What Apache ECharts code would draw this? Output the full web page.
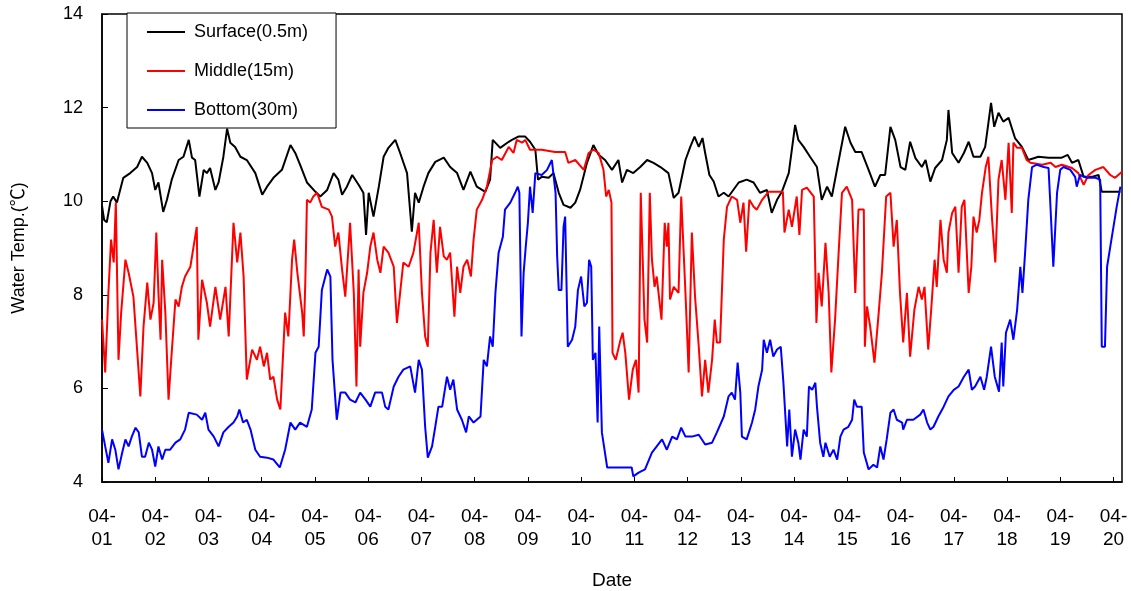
<!DOCTYPE html>
<html>
<head>
<meta charset="utf-8">
<script src="https://cdn.jsdelivr.net/npm/echarts@6/dist/echarts.min.js"></script>
<style>
html,body{margin:0;padding:0;background:#fff;}
#chart{width:1131px;height:591px;}
</style>
</head>
<body>
<div id="chart"></div>
<script>
// Days elapsed since 04-01 00:00 and water temperature (°C)
const surfaceT = [0.00,0.04,0.09,0.16,0.21,0.28,0.40,0.53,0.66,0.75,0.85,0.94,1.00,1.06,1.15,1.22,1.31,1.44,1.53,1.63,1.69,1.75,1.83,1.91,1.97,2.03,2.13,2.19,2.28,2.35,2.41,2.50,2.60,2.72,2.88,3.01,3.10,3.22,3.38,3.54,3.63,3.72,3.85,4.01,4.10,4.23,4.35,4.44,4.51,4.60,4.70,4.82,4.91,4.96,5.01,5.10,5.20,5.29,5.38,5.51,5.60,5.73,5.82,5.88,5.95,6.04,6.13,6.26,6.42,6.54,6.67,6.79,6.92,7.04,7.20,7.29,7.34,7.48,7.64,7.70,7.82,7.95,8.04,8.14,8.19,8.26,8.39,8.48,8.58,8.67,8.80,8.89,8.98,9.11,9.23,9.33,9.45,9.58,9.70,9.77,9.86,9.98,10.11,10.24,10.36,10.49,10.64,10.74,10.83,10.96,11.05,11.13,11.21,11.28,11.33,11.41,11.49,11.58,11.68,11.77,11.96,12.11,12.24,12.36,12.49,12.58,12.68,12.77,12.90,13.02,13.08,13.18,13.30,13.43,13.52,13.62,13.71,13.84,13.96,14.06,14.15,14.27,14.40,14.52,14.62,14.71,14.81,14.90,15.00,15.09,15.18,15.28,15.40,15.47,15.56,15.65,15.78,15.87,15.90,15.97,16.09,16.19,16.28,16.37,16.50,16.59,16.65,16.70,16.76,16.84,16.93,17.03,17.15,17.28,17.40,17.59,17.78,18.03,18.14,18.22,18.34,18.44,18.59,18.72,18.78,18.97,19.13];
const surfaceV = [9.9,9.6,9.55,10.0,10.1,9.97,10.5,10.6,10.73,10.95,10.82,10.6,10.24,10.4,9.77,10.03,10.46,10.88,10.95,11.31,10.93,10.88,10.1,10.67,10.6,10.71,10.24,10.4,10.95,11.55,11.25,11.16,10.95,10.88,10.6,10.14,10.31,10.5,10.67,11.2,11.03,10.78,10.4,10.2,10.1,10.24,10.6,10.46,10.14,10.31,10.56,10.35,10.18,9.28,10.18,9.67,10.31,10.95,11.14,11.31,11.03,10.6,9.35,10.18,9.97,10.31,10.6,10.84,10.93,10.73,10.6,10.24,10.63,10.31,10.2,10.46,11.31,11.14,11.27,11.31,11.38,11.38,11.27,11.1,10.46,10.52,10.5,10.6,10.18,9.92,9.86,9.97,10.24,10.82,11.2,10.99,10.88,10.67,10.88,10.4,10.67,10.6,10.73,10.88,10.82,10.73,10.6,10.07,10.18,10.88,11.16,11.38,11.16,11.35,11.03,10.56,10.42,10.1,10.18,10.1,10.4,10.46,10.4,10.18,10.24,9.75,10.03,10.2,10.6,11.63,11.31,11.16,10.95,10.73,10.03,10.31,10.1,10.88,11.59,11.25,11.05,11.05,10.67,10.31,10.56,10.56,11.59,11.31,10.73,10.67,11.27,10.92,10.73,10.88,10.42,10.71,10.88,11.31,11.95,11.03,10.82,11.03,11.27,10.95,10.95,11.16,11.67,12.1,11.59,11.89,11.7,11.78,11.35,11.16,10.88,10.95,10.93,10.93,10.99,10.82,10.88,10.52,10.52,10.56,10.2,10.2,10.2];

const middleT = [0.00,0.06,0.12,0.17,0.22,0.26,0.31,0.36,0.44,0.50,0.59,0.72,0.78,0.85,0.91,0.97,1.02,1.06,1.10,1.13,1.19,1.25,1.30,1.38,1.44,1.50,1.56,1.66,1.72,1.78,1.81,1.88,1.97,2.03,2.13,2.22,2.32,2.38,2.47,2.54,2.60,2.66,2.72,2.82,2.91,2.97,3.04,3.10,3.16,3.22,3.29,3.35,3.44,3.50,3.57,3.61,3.67,3.76,3.79,3.82,3.85,3.91,3.97,4.04,4.13,4.26,4.32,4.38,4.44,4.51,4.57,4.66,4.73,4.78,4.82,4.85,4.91,4.98,5.04,5.10,5.17,5.23,5.29,5.38,5.48,5.54,5.60,5.66,5.76,5.85,5.95,6.01,6.07,6.12,6.17,6.23,6.29,6.35,6.42,6.48,6.54,6.62,6.67,6.73,6.79,6.86,6.93,6.98,7.04,7.14,7.23,7.33,7.42,7.51,7.64,7.73,7.79,7.89,7.95,8.04,8.26,8.51,8.70,8.76,8.89,9.05,9.14,9.23,9.33,9.42,9.47,9.52,9.57,9.59,9.65,9.74,9.78,9.83,9.90,9.97,10.03,10.08,10.12,10.19,10.24,10.29,10.33,10.38,10.42,10.51,10.57,10.61,10.64,10.67,10.74,10.83,10.88,10.96,11.02,11.08,11.14,11.21,11.27,11.33,11.39,11.46,11.51,11.55,11.61,11.68,11.74,11.83,11.93,11.99,12.05,12.10,12.16,12.24,12.30,12.40,12.52,12.79,12.82,12.90,12.96,13.05,13.10,13.15,13.24,13.37,13.42,13.46,13.52,13.59,13.65,13.70,13.77,13.84,13.90,13.99,14.09,14.15,14.21,14.31,14.33,14.37,14.43,14.51,14.59,14.65,14.73,14.81,14.87,14.93,14.99,15.05,15.12,15.18,15.26,15.34,15.40,15.45,15.52,15.58,15.64,15.68,15.75,15.81,15.87,15.90,15.97,16.03,16.09,16.15,16.20,16.28,16.33,16.37,16.43,16.48,16.53,16.60,16.65,16.72,16.78,16.84,16.90,16.97,17.03,17.09,17.12,17.19,17.28,17.37,17.44,17.66,17.82,17.91,18.03,18.22,18.34,18.44,18.53,18.66,18.81,18.94,19.03,19.16];
const middleV = [7.47,6.34,8.04,9.18,8.69,9.97,6.61,7.62,8.75,8.47,7.96,5.83,7.32,8.26,7.47,7.83,9.33,8.04,7.04,8.75,7.62,5.76,6.61,7.9,7.75,8.17,8.39,8.6,9.03,9.45,7.04,8.32,7.83,7.32,8.17,7.47,8.17,7.11,9.54,8.69,9.33,8.39,6.19,6.83,6.61,6.89,6.47,6.76,6.19,6.25,5.76,5.55,7.62,7.11,8.75,9.18,8.47,7.62,7.11,8.32,10.03,9.97,10.1,10.18,9.88,9.82,9.67,9.03,9.33,8.54,7.96,9.54,8.04,6.04,8.54,6.89,8.04,8.47,9.03,9.33,8.75,8.47,9.03,8.9,8.6,7.4,8.04,8.69,8.6,8.9,9.54,8.04,7.11,6.89,8.9,9.6,8.47,9.45,8.82,8.75,8.9,7.53,8.6,8.04,8.6,8.75,8.39,9.18,9.82,10.03,10.31,10.88,10.95,10.88,11.16,11.03,11.31,11.25,11.31,11.1,11.1,11.05,11.05,10.82,10.88,10.67,11.03,11.1,11.03,10.67,10.1,10.24,9.97,6.76,6.61,7.04,7.19,6.76,5.76,6.4,6.61,5.91,10.18,7.47,6.98,10.18,8.75,8.17,8.39,7.47,9.54,9.03,9.54,7.9,8.17,8.04,10.1,8.04,6.34,9.33,7.96,6.89,5.83,6.61,5.91,6.61,7.47,6.98,6.98,9.18,9.88,10.1,10.03,9.54,9.97,8.92,10.03,9.88,9.82,10.03,10.2,10.2,9.33,9.82,9.45,10.1,9.28,10.24,10.29,10.1,7.4,8.47,7.75,9.11,8.04,6.34,7.47,8.96,10.18,10.31,10.03,8.04,9.82,9.82,6.89,7.75,7.32,6.55,7.62,8.47,10.1,10.18,9.03,9.6,8.04,6.98,8.04,6.68,7.68,8.17,7.9,8.17,6.83,7.75,8.75,8.17,9.6,8.75,8.47,9.33,9.75,9.88,8.47,9.88,10.03,8.04,8.6,9.67,9.33,9.6,10.18,10.73,10.95,9.6,8.69,10.46,10.88,10.03,11.25,9.75,11.25,11.14,11.14,10.88,10.82,10.78,10.82,10.73,10.78,10.71,10.6,10.35,10.56,10.67,10.73,10.56,10.5,10.63];

const bottomT = [0.00,0.06,0.12,0.19,0.25,0.31,0.38,0.44,0.50,0.56,0.63,0.69,0.75,0.81,0.88,0.94,1.00,1.06,1.13,1.19,1.28,1.38,1.47,1.56,1.63,1.78,1.88,1.94,2.00,2.10,2.19,2.28,2.38,2.47,2.54,2.58,2.65,2.72,2.79,2.88,2.97,3.10,3.22,3.34,3.44,3.54,3.63,3.72,3.85,3.94,4.01,4.07,4.13,4.23,4.29,4.33,4.41,4.48,4.57,4.66,4.76,4.85,4.95,5.04,5.13,5.26,5.32,5.38,5.48,5.57,5.66,5.79,5.88,5.95,6.01,6.07,6.12,6.20,6.26,6.32,6.39,6.48,6.54,6.60,6.67,6.76,6.84,6.89,6.98,7.11,7.17,7.23,7.29,7.34,7.39,7.45,7.53,7.57,7.67,7.76,7.81,7.84,7.88,7.92,7.96,8.00,8.04,8.09,8.14,8.26,8.36,8.45,8.52,8.55,8.58,8.63,8.67,8.70,8.75,8.83,8.89,8.94,9.00,9.06,9.11,9.15,9.19,9.22,9.27,9.31,9.34,9.39,9.49,9.95,9.98,10.08,10.20,10.33,10.42,10.52,10.61,10.71,10.80,10.88,10.96,11.08,11.21,11.33,11.46,11.55,11.68,11.77,11.83,11.89,11.94,11.99,12.02,12.11,12.21,12.27,12.33,12.40,12.43,12.49,12.55,12.61,12.68,12.75,12.80,12.87,12.91,12.96,13.02,13.08,13.12,13.18,13.24,13.28,13.34,13.40,13.43,13.49,13.55,13.59,13.67,13.74,13.81,13.87,13.93,14.02,14.09,14.13,14.18,14.27,14.31,14.40,14.49,14.56,14.62,14.68,14.74,14.81,14.87,14.93,15.03,15.05,15.12,15.24,15.37,15.43,15.50,15.56,15.62,15.71,15.81,15.90,16.00,16.09,16.19,16.28,16.34,16.40,16.50,16.57,16.62,16.70,16.77,16.85,16.90,16.93,16.98,17.06,17.12,17.19,17.25,17.29,17.34,17.40,17.47,17.56,17.69,17.78,17.81,17.87,17.94,18.00,18.06,18.19,18.28,18.31,18.37,18.50,18.66,18.75,18.78,18.84,18.88,18.94,19.00,19.06,19.13];
const bottomV = [5.12,4.76,4.41,4.91,4.69,4.27,4.63,4.91,4.76,4.97,5.16,5.06,4.54,4.54,4.84,4.69,4.33,4.76,4.48,4.69,4.69,4.84,4.91,5.12,5.48,5.44,5.33,5.48,5.12,4.97,4.76,5.06,5.18,5.27,5.4,5.55,5.27,5.33,5.12,4.69,4.54,4.52,4.48,4.31,4.69,5.27,5.12,5.27,5.18,5.55,6.76,6.89,8.1,8.54,8.39,6.61,5.33,5.91,5.91,5.76,5.7,5.91,5.76,5.61,5.91,5.91,5.61,5.55,6.04,6.25,6.4,6.47,5.91,6.61,6.4,5.18,4.52,4.76,5.18,5.61,5.61,6.25,5.97,6.19,5.55,5.33,5.06,5.4,5.27,5.4,6.61,6.47,7.11,6.89,8.04,8.9,9.24,9.82,9.97,10.18,10.31,10.18,7.11,8.47,9.03,9.54,10.31,9.75,10.6,10.56,10.67,10.88,10.18,8.82,8.1,8.1,9.45,9.67,6.89,7.04,7.32,8.1,8.39,7.75,7.83,8.75,8.6,6.61,6.76,5.27,7.32,5.06,4.31,4.31,4.12,4.2,4.27,4.63,4.76,4.91,4.69,4.97,4.91,5.16,4.97,4.97,5.01,4.8,4.84,5.06,5.4,5.83,5.91,5.76,6.55,5.91,4.97,4.91,5.27,5.55,6.04,6.4,7.04,6.76,7.04,6.68,6.83,6.89,6.12,4.76,5.55,4.54,5.12,4.84,4.48,5.12,4.97,6.04,5.97,6.12,5.61,4.84,4.54,4.84,4.54,4.69,4.48,4.97,5.12,5.18,5.33,5.76,5.61,5.61,4.63,4.27,4.37,4.31,4.76,4.48,4.91,5.48,5.55,5.33,5.27,5.12,5.33,5.33,5.44,5.55,5.27,5.12,5.18,5.4,5.61,5.83,5.97,6.04,6.25,6.4,5.97,6.04,6.25,5.97,6.25,6.89,6.25,5.93,6.98,6.04,7.19,7.47,7.04,7.68,8.6,8.04,8.9,10.03,10.73,10.78,10.73,10.71,10.03,8.6,10.18,10.67,10.73,10.67,10.52,10.31,10.56,10.5,10.5,10.46,6.89,6.89,8.6,9.03,9.45,9.88,10.31];

const seriesNames = ['Surface(0.5m)', 'Middle(15m)', 'Bottom(30m)'];
const dayLabels = ['01','02','03','04','05','06','07','08','09','10','11','12','13','14','15','16','17','18','19','20'];
const yTicks = [4, 6, 8, 10, 12, 14];

function zip(t, v) { return t.map((x, i) => [x, v[i]]); }

const FONT = '"Liberation Sans", Arial, "Noto Sans CJK SC", sans-serif';
const chart = echarts.init(document.getElementById('chart'), null, {renderer: 'canvas'});

chart.setOption({
  animation: false,
  backgroundColor: '#fff',
  grid: {
    left: 102, right: 9, top: 14, bottom: 109,
    containLabel: false,
    outerBoundsMode: 'none',
    show: true, borderColor: '#000', borderWidth: 1.5, backgroundColor: 'transparent'
  },
  legend: {
    orient: 'vertical',
    left: 127, top: 13,
    padding: [9, 28, 8, 20],
    itemGap: 19,
    icon: 'rect',
    itemWidth: 38, itemHeight: 2,
    borderColor: '#000', borderWidth: 1,
    backgroundColor: '#fff',
    borderRadius: 0,
    textStyle: { fontFamily: FONT, fontSize: 18, color: '#000', lineHeight: 20, padding: [0, 0, 0, 4] },
    data: seriesNames
  },
  xAxis: {
    type: 'value',
    min: 0, max: 19.16, interval: 1,
    name: 'Date',
    nameLocation: 'middle',
    nameGap: 89,
    nameTextStyle: { fontFamily: FONT, fontSize: 19, color: '#000' },
    axisLine: { lineStyle: { color: '#000', width: 1.5 } },
    axisTick: { inside: true, length: 5, lineStyle: { color: '#000', width: 1 } },
    splitLine: { show: false },
    axisLabel: {
      showMaxLabel: false,
      fontFamily: FONT, fontSize: 19, color: '#000',
      lineHeight: 23, margin: 23,
      formatter: v => {
        const i = Math.round(v);
        if (Math.abs(v - i) > 1e-6 || i < 0 || i >= dayLabels.length) return '';
        return '04-\n' + dayLabels[i];
      }
    }
  },
  yAxis: {
    type: 'value',
    min: yTicks[0], max: yTicks[yTicks.length - 1], interval: 2,
    name: 'Water Temp.(℃)',
    nameLocation: 'middle',
    nameGap: 74,
    nameRotate: 90,
    nameTextStyle: { fontFamily: FONT, fontSize: 18, color: '#000' },
    axisLine: { show: true, lineStyle: { color: '#000', width: 1.5 } },
    axisTick: { show: true, inside: true, length: 6, lineStyle: { color: '#000', width: 1 } },
    splitLine: { show: false },
    axisLabel: { fontFamily: FONT, fontSize: 18, color: '#000', margin: 19 }
  },
  series: [
    { name: seriesNames[0], type: 'line', data: zip(surfaceT, surfaceV), symbol: 'none', clip: true,
      lineStyle: { color: '#000000', width: 2 }, itemStyle: { color: '#000000' } },
    { name: seriesNames[1], type: 'line', data: zip(middleT, middleV), symbol: 'none', clip: true,
      lineStyle: { color: '#ff0000', width: 2 }, itemStyle: { color: '#ff0000' } },
    { name: seriesNames[2], type: 'line', data: zip(bottomT, bottomV), symbol: 'none', clip: true,
      lineStyle: { color: '#0000ff', width: 2 }, itemStyle: { color: '#0000ff' } }
  ]
});
</script>
</body>
</html>
